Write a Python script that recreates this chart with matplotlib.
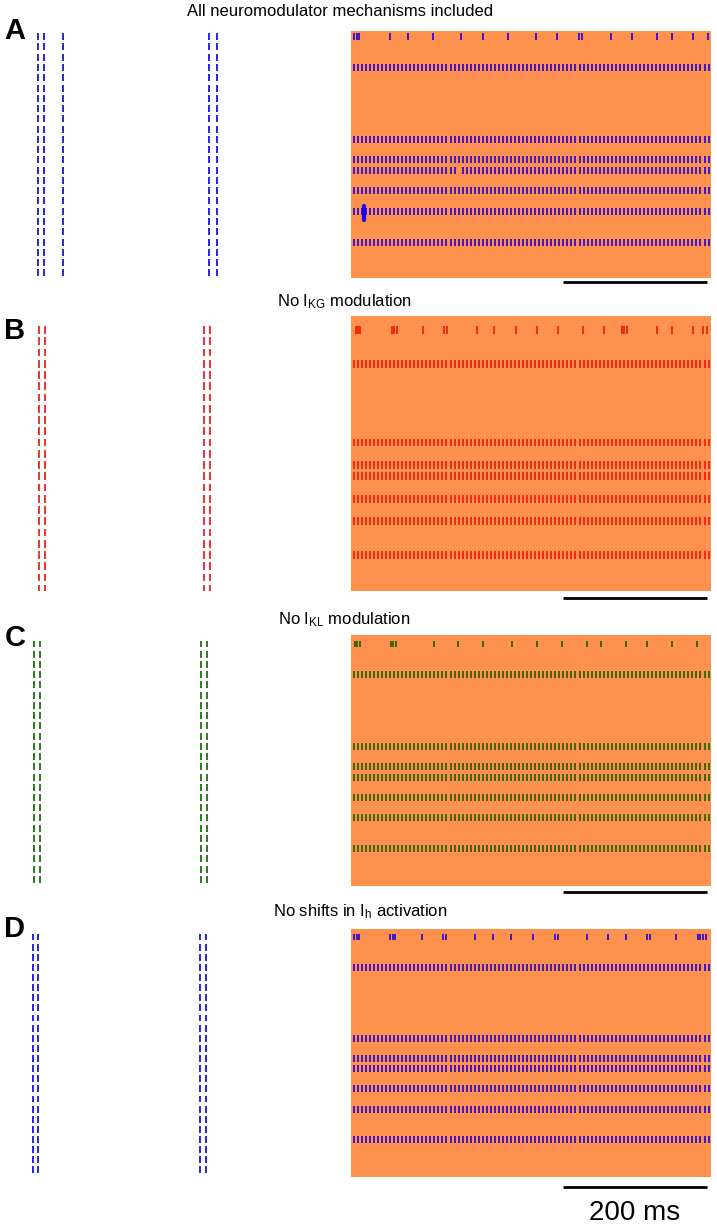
import numpy as np
import matplotlib
matplotlib.use('Agg')
import matplotlib.pyplot as plt
from matplotlib.transforms import blended_transform_factory

plt.rcParams['font.family'] = ['Liberation Sans', 'DejaVu Sans']
plt.rcParams['mathtext.fontset'] = 'custom'
plt.rcParams['mathtext.rm'] = 'Liberation Sans'
plt.rcParams['mathtext.it'] = 'Liberation Sans:italic'

# ---------------- data ----------------
titles = ['All neuromodulator mechanisms included',
          r'No I$_{\mathrm{KG}}$ modulation',
          r'No I$_{\mathrm{KL}}$ modulation',
          r'No shifts in I$_{\mathrm{h}}$ activation']
letters = ['A', 'B', 'C', 'D']
spike_colors = ['#2c0fd2', '#ee2211', '#2b6400', '#2c0fd2']
left_colors = ['#1414dc', '#ee2222', '#207010', '#1414dc']
bg_color = '#ff914f'

n_neurons = 24
neurons = list(range(1, n_neurons + 1))
bursting_row = 1
tonic_rows = [4, 11, 13, 14, 16, 18, 21]
tonic_first = 3.8      # ms
tonic_isi = 5.6        # ms
window_ms = 500

burst_A = [4.2, 7.9, 11.5, 54.2, 79.2, 113.5, 152.8, 182.9, 217.6, 256.9, 286.1,
           316.3, 320.9, 360.7, 390.3, 425.0, 445.4, 474.6, 495.4]
burst_B = [6.5, 9.3, 12.5, 56.5, 60.1, 63.5, 100.4, 129.6, 132.9, 174.6, 198.6,
           229.2, 257.9, 287.9, 321.8, 351.4, 376.0, 379.6, 383.0, 424.6, 445.4,
           474.6, 489.3, 494.0]
burst_C = [5.6, 8.8, 12.1, 55.1, 58.8, 62.5, 114.9, 149.1, 183.8, 223.2, 257.9,
           292.6, 327.4, 346.8, 381.5, 411.5, 445.8, 481.0]
burst_D = [4.2, 7.9, 11.5, 54.2, 57.9, 61.5, 98.2, 128.2, 131.9, 172.6, 197.6,
           222.6, 252.4, 282.9, 287.5, 327.4, 356.5, 381.5, 410.7, 415.3, 451.4,
           481.5, 485.3, 489.0, 492.6]
bursts = [burst_A, burst_B, burst_C, burst_D]

# missing spike in panel A (row 14 near 147 ms) and the overlapping burst blob (row 18)
gap_A = (14, 147.0)
blob_A = (18, 18.0)

# long-window raster on the left: synchronous events (arbitrary time units)
sync_A = [18.3, 24.3, 42.7, 189.0, 196.7]
sync_B = [19.0, 25.0, 184.0, 190.0]
sync_C = [14.0, 20.0, 181.0, 187.0]
sync_D = [13.0, 18.0, 180.0, 186.0]
syncs = [sync_A, sync_B, sync_C, sync_D]
left_window = 320

scalebar_ms = (294, 494)

# ---------------- layout (pixels) ----------------
W, H = 717, 1230
raster_x = (351, 711)
left_x = (20, 340)
panel_tb = [(30.7, 277.7), (315.7, 591.0), (634.7, 886.0), (929.3, 1177.0)]
panel_ylim = [(24.47, 0.42), (24.2, -0.27), (24.65, 0.09), (24.7, 0.24)]
scalebar_gap = [4.5, 7.0, 5.5, 10.0]
title_xy = [(340, 12), (344, 302), (344, 620), (360, 912)]
letter_xy = [(15, 31), (15, 331), (15, 638), (15, 929)]

fig = plt.figure(figsize=(W / 100, H / 100), dpi=100)


def fig_rect(x0, x1, yt, yb):
    return [x0 / W, 1 - yb / H, (x1 - x0) / W, (yb - yt) / H]


for i in range(4):
    yt, yb = panel_tb[i]
    # right raster
    ax = fig.add_axes(fig_rect(raster_x[0], raster_x[1], yt, yb))
    ax.set_facecolor(bg_color)
    for s in ax.spines.values():
        s.set_visible(False)
    ax.set_xticks([]); ax.set_yticks([])
    ax.set_xlim(0, window_ms)
    ax.set_ylim(*panel_ylim[i])

    positions = [np.array(bursts[i])]
    offsets = [bursting_row]
    tonic = np.arange(tonic_first, window_ms, tonic_isi)
    for r in tonic_rows:
        t = tonic.copy()
        if i == 0 and r == gap_A[0]:
            t = t[np.abs(t - gap_A[1]) > tonic_isi / 2]
        positions.append(t)
        offsets.append(r)
    ax.eventplot(positions, lineoffsets=offsets, linelengths=0.68,
                 linewidths=1.3, colors=spike_colors[i])
    if i == 0:
        ax.plot([blob_A[1], blob_A[1]], [blob_A[0] - 0.5, blob_A[0] + 0.85],
                color='#1a00f0', lw=3.0, solid_capstyle='round')

    # scale bar
    trans = blended_transform_factory(ax.transData, ax.transAxes)
    ybar = -scalebar_gap[i] / (yb - yt)
    ax.plot(scalebar_ms, [ybar, ybar], color='black', lw=2.0,
            transform=trans, clip_on=False, solid_capstyle='butt')
    if i == 3:
        ax.text(np.mean(scalebar_ms), ybar - 26 / (yb - yt), '200 ms',
                transform=trans, ha='center', va='center', fontsize=20)

    # left raster
    axl = fig.add_axes(fig_rect(left_x[0], left_x[1], yt, yb))
    axl.set_axis_off()
    axl.set_xlim(0, left_window)
    axl.set_ylim(*panel_ylim[i])
    axl.eventplot([syncs[i]] * n_neurons, lineoffsets=neurons, linelengths=0.68,
                  linewidths=1.3, colors=left_colors[i])

    fig.text(title_xy[i][0] / W, 1 - title_xy[i][1] / H, titles[i],
             ha='center', va='center', fontsize=12)
    fig.text(letter_xy[i][0] / W, 1 - letter_xy[i][1] / H, letters[i],
             ha='center', va='center', fontsize=21, fontweight='bold')

fig.savefig('out.png', dpi=100)
